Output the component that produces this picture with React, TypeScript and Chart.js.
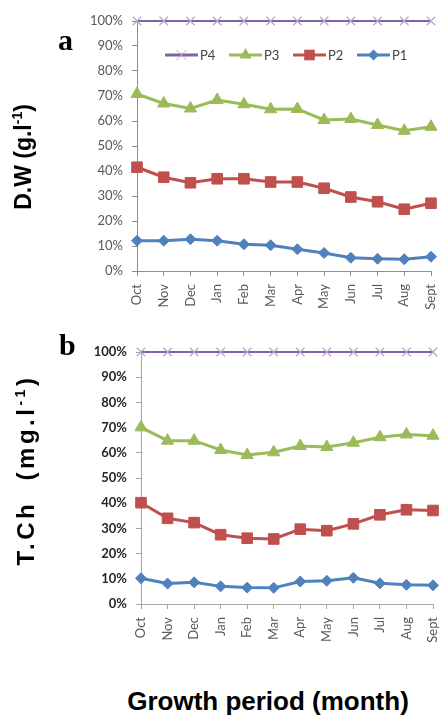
import React, { useEffect, useRef } from "react";
import { Chart, registerables } from "chart.js";

Chart.register(...registerables);

const months = ["Oct", "Nov", "Dec", "Jan", "Feb", "Mar", "Apr", "May", "Jun", "Jul", "Aug", "Sept"];
const seriesNames = ["P4", "P3", "P2", "P1"];

// (a) D.W (g.l-1) — percentages
const dwP4 = [100, 100, 100, 100, 100, 100, 100, 100, 100, 100, 100, 100];
const dwP3 = [70.8, 67.0, 65.0, 68.4, 66.7, 64.7, 64.8, 60.4, 60.8, 58.4, 56.1, 57.7];
const dwP2 = [41.5, 37.5, 35.3, 36.9, 36.9, 35.6, 35.6, 33.1, 29.6, 27.7, 24.7, 27.1];
const dwP1 = [12.1, 12.1, 12.7, 12.1, 10.7, 10.3, 8.7, 7.2, 5.3, 4.9, 4.7, 5.7];

// (b) T.Ch (mg.l-1) — percentages
const tchP4 = [100, 100, 100, 100, 100, 100, 100, 100, 100, 100, 100, 100];
const tchP3 = [70.1, 64.8, 64.8, 61.1, 59.1, 60.2, 62.7, 62.3, 64.0, 66.2, 67.3, 66.8];
const tchP2 = [40.2, 34.0, 32.3, 27.5, 26.1, 25.8, 29.7, 29.1, 31.8, 35.4, 37.4, 37.1];
const tchP1 = [10.2, 8.1, 8.6, 7.0, 6.5, 6.4, 8.9, 9.2, 10.4, 8.2, 7.6, 7.4];

const STYLES = [
  { line: "#7F63A6", marker: "#B4A4CE", style: "crossRot", radius: 6, width: 2 },
  { line: "#9BBB59", marker: "#9BBB59", style: "triangle", radius: 7, width: 3 },
  { line: "#C0504D", marker: "#C0504D", style: "rect", radius: 7.5, width: 3 },
  { line: "#4F81BD", marker: "#4F81BD", style: "rectRot", radius: 5.5, width: 3 },
];

function drawMarker(ctx: CanvasRenderingContext2D, style: string, x: number, y: number, r: number, color: string) {
  ctx.save();
  ctx.fillStyle = color;
  ctx.strokeStyle = color;
  ctx.lineWidth = 1;
  ctx.beginPath();
  if (style === "crossRot") {
    const d = r * Math.SQRT1_2 * 1.2;
    ctx.moveTo(x - d, y - d);
    ctx.lineTo(x + d, y + d);
    ctx.moveTo(x - d, y + d);
    ctx.lineTo(x + d, y - d);
    ctx.stroke();
  } else if (style === "triangle") {
    const w = r * 0.866;
    ctx.moveTo(x, y - r);
    ctx.lineTo(x + w, y + r * 0.5);
    ctx.lineTo(x - w, y + r * 0.5);
    ctx.closePath();
    ctx.fill();
  } else if (style === "rect") {
    const s = r * Math.SQRT1_2;
    ctx.rect(x - s, y - s, 2 * s, 2 * s);
    ctx.fill();
  } else {
    ctx.moveTo(x, y - r);
    ctx.lineTo(x + r, y);
    ctx.lineTo(x, y + r);
    ctx.lineTo(x - r, y);
    ctx.closePath();
    ctx.fill();
  }
  ctx.restore();
}

const legendPlugin = {
  id: "excelLegend",
  afterDraw(chart: any, _args: any, opts: any) {
    if (!opts || !opts.show) return;
    const ctx = chart.ctx as CanvasRenderingContext2D;
    const y = opts.y;
    let x = opts.x;
    seriesNames.forEach((name, i) => {
      const s = STYLES[i];
      ctx.save();
      ctx.strokeStyle = s.line;
      ctx.lineWidth = s.width + (i === 0 ? 1 : 0);
      ctx.beginPath();
      ctx.moveTo(x, y);
      ctx.lineTo(x + 33, y);
      ctx.stroke();
      ctx.restore();
      drawMarker(ctx, s.style, x + 16.5, y, s.radius, s.marker);
      ctx.save();
      ctx.fillStyle = "#404040";
      ctx.font = "13px Lato";
      ctx.textBaseline = "middle";
      ctx.textAlign = "left";
      ctx.fillText(name, x + 35, y + 1);
      ctx.restore();
      x += 64;
    });
  },
};

type PanelProps = {
  series: number[][];
  top: number;
  height: number;
  area: { left: number; right: number; top: number; bottom: number };
  yBold: boolean;
  axisColor: string;
  legend: boolean;
};

function Panel(props: PanelProps) {
  const ref = useRef<HTMLCanvasElement | null>(null);
  useEffect(() => {
    const canvas = ref.current;
    if (!canvas) return;
    const { area, height } = props;
    const datasets = props.series.map((data, i) => {
      const s = STYLES[i];
      return {
        label: seriesNames[i],
        data,
        borderColor: s.line,
        backgroundColor: s.marker,
        pointBackgroundColor: s.marker,
        pointBorderColor: s.marker,
        pointBorderWidth: i === 0 ? 1.2 : 1,
        pointStyle: s.style,
        pointRadius: s.radius,
        borderWidth: s.width,
        tension: 0,
        fill: false,
        clip: false as any,
      };
    });
    const chart = new Chart(canvas, {
      type: "line",
      data: { labels: months, datasets },
      plugins: [legendPlugin as any],
      options: {
        animation: false,
        responsive: false,
        maintainAspectRatio: false,
        events: [],
        layout: {
          autoPadding: false,
          padding: { top: area.top, right: 442 - area.right, left: 0, bottom: 0 },
        },
        plugins: {
          legend: { display: false },
          tooltip: { enabled: false },
          excelLegend: { show: props.legend, x: 165, y: 55 },
        } as any,
        scales: {
          x: {
            type: "category",
            offset: false,
            afterFit: (scale: any) => {
              scale.height = height - area.bottom;
              scale.paddingLeft = 0;
              scale.paddingRight = 0;
            },
            grid: {
              display: true,
              drawOnChartArea: false,
              drawTicks: true,
              tickLength: 5,
              color: props.axisColor,
            },
            border: { display: true, color: props.axisColor, width: 1 },
            ticks: {
              autoSkip: false,
              maxRotation: 90,
              minRotation: 90,
              padding: 8,
              color: "#595959",
              font: { family: "Lato", size: 13 },
            },
          },
          y: {
            min: 0,
            max: 100,
            afterFit: (scale: any) => {
              scale.width = area.left;
              scale.paddingTop = 0;
              scale.paddingBottom = 0;
            },
            grid: {
              display: true,
              drawOnChartArea: false,
              drawTicks: true,
              tickLength: 5,
              color: props.axisColor,
            },
            border: { display: true, color: props.axisColor, width: 1 },
            ticks: {
              stepSize: 10,
              padding: 9,
              color: props.yBold ? "#262626" : "#595959",
              font: { family: "Lato", size: 13, weight: props.yBold ? "bold" : "normal" },
              callback: (v: any) => v + "%",
            },
          },
        },
      } as any,
    });
    return () => chart.destroy();
  }, []);
  return (
    <canvas
      ref={ref}
      width={442}
      height={props.height}
      style={{ position: "absolute", left: 0, top: props.top, width: 442, height: props.height }}
    />
  );
}

const titleStyle: React.CSSProperties = {
  position: "absolute",
  fontFamily: "'Liberation Sans', Arial, sans-serif",
  fontWeight: "bold",
  fontSize: 23,
  lineHeight: "23px",
  whiteSpace: "pre",
  color: "#000",
};

const supStyle: React.CSSProperties = {
  fontSize: 14,
  verticalAlign: "super",
  lineHeight: 0,
};

export default function App() {
  return (
    <div style={{ position: "absolute", left: 0, top: 0, width: 442, height: 715, background: "#fff", overflow: "hidden" }}>
      <Panel
        series={[dwP4, dwP3, dwP2, dwP1]}
        top={0}
        height={330}
        area={{ left: 137, right: 431, top: 21, bottom: 271 }}
        yBold={false}
        axisColor="#8C8C8C"
        legend={true}
      />
      <div style={{ position: "absolute", top: 330, left: 0, width: 442, height: 340 }}>
        <Panel
          series={[tchP4, tchP3, tchP2, tchP1]}
          top={0}
          height={340}
          area={{ left: 141, right: 433, top: 22, bottom: 274 }}
          yBold={true}
          axisColor="#A6A6A6"
          legend={false}
        />
      </div>
      <div style={{ position: "absolute", left: 58, top: 25, fontFamily: "'Liberation Serif', serif", fontWeight: "bold", fontSize: 30, lineHeight: "30px" }}>a</div>
      <div style={{ position: "absolute", left: 59, top: 330, fontFamily: "'Liberation Serif', serif", fontWeight: "bold", fontSize: 30, lineHeight: "30px" }}>b</div>
      <div style={{ ...titleStyle, left: 23, top: 157, transform: "translate(-50%, -50%) rotate(-90deg)" }}>
        D.W (g.l<span style={supStyle}>-1</span>)
      </div>
      <div style={{ ...titleStyle, fontSize: 24, lineHeight: "24px", left: 26, top: 470, letterSpacing: "3.5px", transform: "translate(-50%, -50%) rotate(-90deg)" }}>
        T.Ch  (mg.l<span style={supStyle}>-1</span>)
      </div>
      <div style={{ ...titleStyle, fontSize: 26, lineHeight: "26px", left: 268, top: 688, transform: "translateX(-50%)" }}>
        Growth period (month)
      </div>
    </div>
  );
}
